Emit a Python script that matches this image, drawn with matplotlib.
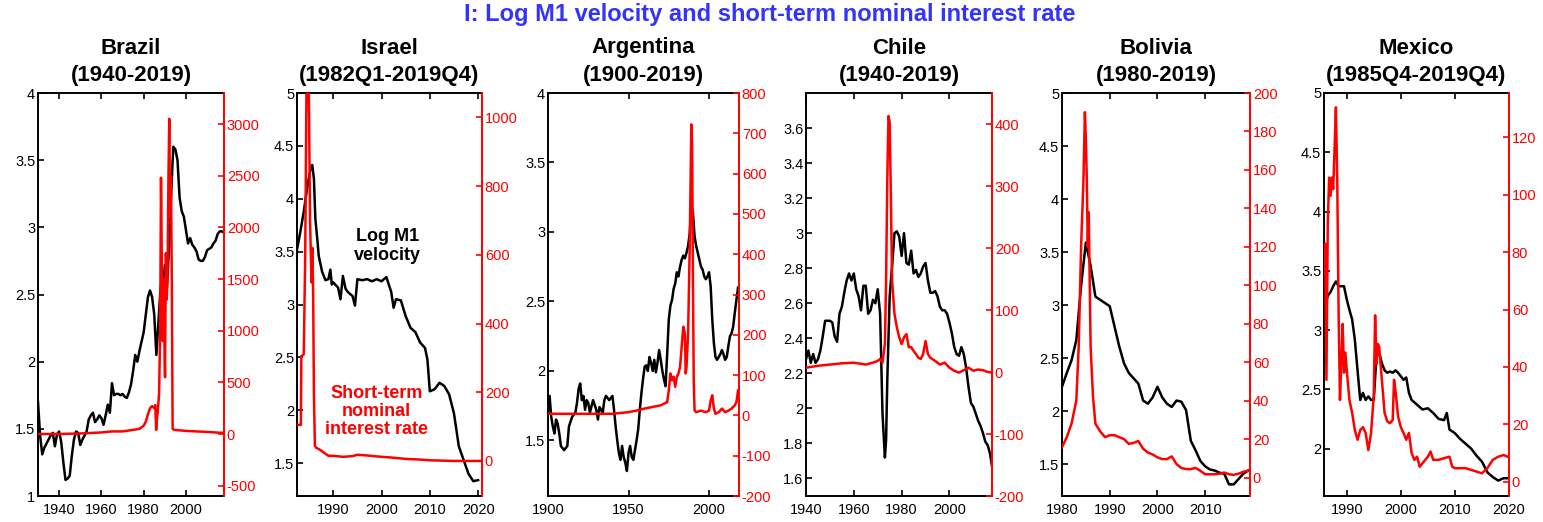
import matplotlib
matplotlib.use('Agg')
import matplotlib.pyplot as plt
from matplotlib.ticker import FuncFormatter, FixedLocator

plt.rcParams['font.family'] = ['Liberation Sans', 'DejaVu Sans']

# ---------------- DATA ----------------
countries = ["Brazil", "Israel", "Argentina", "Chile", "Bolivia", "Mexico"]
periods = ["(1940-2019)", "(1982Q1-2019Q4)", "(1900-2019)", "(1940-2019)", "(1980-2019)", "(1985Q4-2019Q4)"]

# Brazil
bra_years_v = [1930, 1931, 1932, 1933, 1934, 1935, 1936, 1937, 1938, 1939, 1940, 1941, 1942, 1943, 1944, 1945,
               1946, 1947, 1948, 1949, 1950, 1951, 1952, 1953, 1954, 1955, 1956, 1957, 1958, 1959, 1960, 1961,
               1962, 1963, 1964, 1965, 1966, 1967, 1968, 1969, 1970, 1971, 1972, 1973, 1974, 1975, 1976, 1977,
               1978, 1979, 1980, 1981, 1982, 1983, 1984, 1985, 1986, 1987, 1988, 1989, 1990, 1991, 1992, 1993,
               1994, 1995, 1996, 1997, 1998, 1999, 2000, 2001, 2002, 2003, 2004, 2005, 2006, 2007, 2008, 2009,
               2010, 2011, 2012, 2013, 2014, 2015, 2016, 2017, 2018]
bra_velocity = [1.70, 1.45, 1.31, 1.36, 1.39, 1.42, 1.45, 1.47, 1.37, 1.46, 1.48, 1.40, 1.25, 1.12, 1.13, 1.15,
                1.30, 1.42, 1.48, 1.47, 1.38, 1.42, 1.45, 1.48, 1.57, 1.60, 1.62, 1.55, 1.57, 1.60, 1.58, 1.53,
                1.60, 1.68, 1.62, 1.84, 1.75, 1.76, 1.76, 1.75, 1.76, 1.74, 1.73, 1.77, 1.83, 1.93, 2.05, 2.00,
                2.08, 2.15, 2.22, 2.35, 2.48, 2.53, 2.48, 2.35, 2.05, 2.30, 2.55, 2.45, 2.72, 2.55, 2.85, 3.25,
                3.60, 3.58, 3.50, 3.22, 3.12, 3.08, 2.98, 2.88, 2.92, 2.87, 2.85, 2.82, 2.76, 2.75, 2.75, 2.78,
                2.83, 2.84, 2.85, 2.88, 2.90, 2.95, 2.97, 2.97, 2.96]
bra_years_r = [1930, 1940, 1950, 1960, 1965, 1970, 1975, 1978, 1980, 1981, 1982, 1983, 1984, 1985.0, 1985.5,
               1985.9, 1986.3, 1986.8, 1987.3, 1987.8, 1988.2, 1988.6, 1989.0, 1989.4, 1989.8, 1990.1, 1990.5,
               1990.9, 1991.3, 1991.7, 1992.1, 1992.5, 1992.9, 1993.3, 1993.7, 1994.5, 2000, 2005, 2010, 2018]
bra_rate = [0, 0, 5, 15, 25, 25, 40, 50, 80, 120, 190, 250, 270, 250, 280,
            40, 150, 250, 400, 1000, 2480, 1600, 900, 1500, 900, 550, 1750,
            1300, 1550, 2450, 3050, 2100, 2500, 1500, 50, 40, 30, 25, 20, 10]

# Israel
isr_years_v = [1982.55, 1983.2, 1983.9, 1984.6, 1985.3, 1985.65, 1986.0, 1986.3, 1986.7, 1987.0, 1987.7, 1988.4,
               1989.0, 1989.4, 1989.7, 1990.0, 1991.0, 1991.5, 1992.0, 1992.55, 1993.0, 1994.0, 1994.5, 1995.0,
               1996.0, 1997.0, 1998.0, 1999.0, 2000.0, 2001.0, 2002.0, 2002.5, 2003.0, 2004.0, 2005.0, 2006.0,
               2007.0, 2008.0, 2009.0, 2009.5, 2010.0, 2011.0, 2012.0, 2013.0, 2014.0, 2015.0, 2016.0, 2017.0,
               2018.0, 2019.0, 2020.0]
isr_velocity = [3.53, 3.69, 3.88, 4.10, 4.29, 4.32, 4.19, 3.81, 3.62, 3.46, 3.31, 3.23,
                3.24, 3.33, 3.19, 3.21, 3.16, 3.05, 3.27, 3.15, 3.12, 3.08, 2.99, 3.24,
                3.23, 3.24, 3.22, 3.24, 3.22, 3.26, 3.12, 2.97, 3.05, 3.04, 2.89, 2.78,
                2.74, 2.64, 2.59, 2.48, 2.18, 2.20, 2.26, 2.23, 2.15, 1.97, 1.66, 1.53,
                1.40, 1.33, 1.34]
isr_years_r = [1982.55, 1983.3, 1983.4, 1983.9, 1984.2, 1984.5, 1984.9, 1985.2, 1985.5, 1985.7, 1985.85,
               1986.0, 1986.2, 1986.5, 1987, 1988, 1989, 1990, 1992, 1994, 1995, 1997, 2000, 2002, 2005,
               2008, 2010, 2015, 2020.5]
isr_rate = [105, 105, 305, 310, 600, 1150, 1150, 700, 520, 620, 480,
            200, 45, 38, 35, 25, 15, 15, 12, 14, 18, 16, 12, 10, 6,
            4, 2, 0, 0]

# Argentina
arg_years_v = [1900, 1901, 1902, 1903, 1904, 1905, 1906, 1907, 1908, 1910, 1912, 1913, 1915, 1917, 1918, 1919,
               1920, 1921, 1922, 1923, 1924, 1925, 1926, 1928, 1930, 1931, 1932, 1934, 1935, 1936, 1938, 1940,
               1941, 1942, 1943, 1944, 1945, 1946, 1947, 1948, 1949, 1950, 1951, 1952, 1953, 1954, 1955, 1956,
               1957, 1958, 1959, 1960, 1961, 1962, 1963, 1964, 1965, 1966, 1967, 1968, 1969, 1970, 1971, 1972,
               1973, 1974, 1975, 1976, 1977, 1978, 1979, 1980, 1981, 1982, 1983, 1984, 1985, 1986, 1987, 1988,
               1989, 1990, 1991, 1992, 1993, 1994, 1995, 1996, 1997, 1998, 1999, 2000, 2001, 2002, 2003, 2004,
               2005, 2006, 2007, 2008, 2009, 2010, 2011, 2012, 2013, 2014, 2015, 2016, 2017, 2018]
arg_velocity = [1.70, 1.82, 1.67, 1.60, 1.55, 1.65, 1.62, 1.55, 1.46, 1.43, 1.46, 1.60, 1.67, 1.70, 1.77, 1.87,
                1.91, 1.79, 1.82, 1.72, 1.79, 1.77, 1.70, 1.79, 1.72, 1.65, 1.74, 1.70, 1.79, 1.82, 1.79, 1.82,
                1.72, 1.60, 1.50, 1.41, 1.36, 1.46, 1.38, 1.34, 1.28, 1.41, 1.46, 1.38, 1.36, 1.43, 1.50, 1.58,
                1.72, 1.84, 1.94, 2.03, 2.04, 2.00, 2.10, 2.06, 2.00, 2.08, 1.99, 2.06, 2.15, 2.08, 2.00, 1.94,
                1.89, 2.12, 2.37, 2.47, 2.51, 2.59, 2.63, 2.71, 2.68, 2.75, 2.80, 2.83, 2.81, 2.85, 2.90, 2.99,
                3.19, 3.14, 2.97, 2.90, 2.85, 2.80, 2.75, 2.73, 2.68, 2.66, 2.68, 2.71, 2.61, 2.37, 2.20, 2.10,
                2.08, 2.10, 2.12, 2.15, 2.12, 2.08, 2.10, 2.18, 2.25, 2.27, 2.32, 2.42, 2.51, 2.60]
arg_years_r = [1900, 1920, 1940, 1950, 1955, 1960, 1965, 1970, 1974, 1975, 1976, 1977, 1978, 1979, 1980, 1981,
               1982, 1983, 1984, 1985, 1985.5, 1986, 1987, 1988, 1989, 1989.5, 1990, 1990.5, 1991, 1992, 1995,
               1998, 2000, 2001, 2002, 2003, 2004, 2006, 2008, 2010, 2012, 2014, 2016, 2017, 2018]
arg_rate = [4, 4, 4, 8, 12, 17, 21, 25, 33, 62, 104, 87, 96, 71, 96, 104,
            120, 170, 220, 203, 104, 120, 203, 419, 722, 668, 336, 87, 12, 8, 12,
            8, 12, 37, 50, 17, 4, 8, 17, 8, 12, 17, 25, 33, 62]

# Chile
chl_years_v = [1940, 1941, 1942, 1943, 1944, 1945, 1946, 1947, 1948, 1950, 1951, 1952, 1953, 1954, 1955, 1956,
               1957, 1958, 1959, 1960, 1961, 1962, 1963, 1964, 1965, 1966, 1967, 1968, 1969, 1970, 1971, 1972,
               1973, 1973.5, 1974, 1975, 1976, 1977, 1978, 1979, 1980, 1981, 1982, 1983, 1984, 1985, 1986, 1987,
               1988, 1989, 1990, 1991, 1992, 1993, 1994, 1995, 1996, 1997, 1998, 1999, 2000, 2001, 2002, 2003,
               2004, 2005, 2006, 2007, 2008, 2009, 2010, 2011, 2012, 2013, 2014, 2015, 2016, 2017, 2017.8]
chl_velocity = [2.28, 2.33, 2.26, 2.31, 2.26, 2.28, 2.33, 2.41, 2.50, 2.50, 2.49, 2.41, 2.38, 2.54, 2.58, 2.66,
                2.73, 2.77, 2.73, 2.77, 2.68, 2.64, 2.56, 2.70, 2.70, 2.54, 2.56, 2.62, 2.60, 2.68, 2.54, 1.97,
                1.72, 1.82, 2.16, 2.64, 2.81, 3.00, 3.01, 2.98, 2.87, 3.00, 2.83, 2.82, 2.90, 2.77, 2.79, 2.75,
                2.77, 2.81, 2.83, 2.73, 2.66, 2.66, 2.67, 2.64, 2.58, 2.56, 2.56, 2.54, 2.49, 2.43, 2.35, 2.31,
                2.30, 2.35, 2.31, 2.23, 2.12, 2.03, 2.01, 1.97, 1.93, 1.90, 1.86, 1.81, 1.79, 1.74, 1.67]
chl_years_r = [1940, 1945, 1950, 1955, 1960, 1965, 1968, 1970, 1971, 1972, 1973, 1973.5, 1974, 1974.5, 1975,
               1975.5, 1976, 1977, 1978, 1979, 1980, 1981, 1982, 1983, 1984, 1985, 1986, 1987, 1988, 1989,
               1990, 1991, 1992, 1994, 1996, 1998, 2000, 2002, 2004, 2006, 2008, 2010, 2012, 2014, 2016, 2018]
chl_rate = [7, 10, 12, 14, 15, 12, 15, 18, 21, 15, 45, 148, 310, 413, 403,
            283, 148, 94, 72, 56, 45, 56, 61, 40, 40, 34, 29, 23, 21, 29,
            50, 29, 23, 18, 12, 15, 7, 2, -1, 3, 7, 2, 4, 3, 0, -1]

# Bolivia
bol_years_v = [1980, 1981, 1982, 1983, 1984, 1985, 1986, 1987, 1988, 1989, 1990, 1991, 1992, 1993, 1994, 1995,
               1996, 1997, 1998, 1999, 2000, 2001, 2002, 2003, 2004, 2005, 2006, 2007, 2008, 2009, 2010, 2011,
               2012, 2013, 2014, 2015, 2016, 2017, 2018, 2019]
bol_velocity = [2.23, 2.36, 2.48, 2.67, 3.18, 3.59, 3.37, 3.08, 3.05, 3.02, 2.99, 2.80, 2.61, 2.45, 2.36, 2.31,
                2.26, 2.10, 2.07, 2.13, 2.23, 2.13, 2.07, 2.04, 2.10, 2.09, 2.01, 1.72, 1.63, 1.53, 1.48, 1.45,
                1.44, 1.42, 1.41, 1.31, 1.31, 1.36, 1.41, 1.44]
bol_years_r = [1980, 1981, 1982, 1983, 1983.5, 1984, 1984.5, 1984.8, 1985, 1985.2, 1985.4, 1985.6, 1985.8, 1986,
               1986.5, 1987, 1988, 1989, 1990, 1991, 1992, 1993, 1994, 1995, 1996, 1997, 1998, 1999, 2000,
               2001, 2002, 2003, 2004, 2005, 2006, 2007, 2008, 2009, 2010, 2011, 2012, 2013, 2014, 2015, 2016,
               2017, 2018, 2019]
bol_rate = [15.7, 21, 28, 40, 68, 120, 155, 190, 176, 155, 120, 138, 103, 68,
            42, 28, 24, 21, 22, 22, 21, 20, 17.5, 18, 19, 15, 13, 12, 10.5,
            9.6, 9.6, 11, 7, 5, 4.4, 4.4, 5, 3.5, 1.7, 1.7, 1.7, 2, 2.6, 1.7, 1.4,
            2, 3, 3.5]

# Mexico
mex_years_v = [1985.75, 1986, 1986.5, 1987, 1987.5, 1988, 1988.5, 1989, 1989.5, 1990, 1990.5, 1991, 1991.5, 1992,
               1992.5, 1993, 1993.5, 1994, 1994.5, 1995, 1995.5, 1996, 1996.5, 1997, 1997.5, 1998, 1998.5, 1999,
               1999.5, 2000, 2000.5, 2001, 2001.5, 2002, 2003, 2004, 2005, 2006, 2007, 2008, 2008.5, 2009, 2010,
               2011, 2012, 2013, 2014, 2015, 2016, 2017, 2018, 2019, 2019.75]
mex_velocity = [3.43, 3.20, 3.29, 3.32, 3.37, 3.41, 3.37, 3.37, 3.37, 3.26, 3.17, 3.09, 2.92, 2.66,
                2.41, 2.47, 2.41, 2.44, 2.41, 2.41, 2.78, 2.81, 2.72, 2.66, 2.64, 2.65, 2.64, 2.66,
                2.64, 2.61, 2.58, 2.60, 2.47, 2.41, 2.37, 2.33, 2.34, 2.30, 2.25, 2.24, 2.30, 2.16, 2.13,
                2.08, 2.04, 2.00, 1.94, 1.89, 1.80, 1.76, 1.73, 1.75, 1.75]
mex_years_r = [1985.75, 1986, 1986.25, 1986.5, 1986.75, 1987, 1987.25, 1987.5, 1987.75, 1988, 1988.25, 1988.5,
               1988.75, 1989, 1989.25, 1989.5, 1989.75, 1990, 1990.5, 1991, 1991.5, 1992, 1992.5, 1993, 1993.5,
               1994, 1994.5, 1995, 1995.25, 1995.5, 1995.75, 1996, 1996.5, 1997, 1997.5, 1998, 1998.5, 1998.75,
               1999, 1999.5, 2000, 2000.5, 2001, 2001.5, 2002, 2002.5, 2003, 2003.5, 2004, 2005, 2005.5, 2006,
               2007, 2008, 2009, 2009.5, 2010, 2011, 2012, 2013, 2014, 2015, 2016, 2017, 2018, 2019, 2019.75]
mex_rate = [75, 83, 35.5, 90, 106, 99.6, 106, 102, 116, 130.5, 105, 59,
            28.5, 41, 55, 38, 45, 39, 28.5, 24, 18, 14.6, 18, 19, 17,
            11, 17, 30, 58, 41, 48, 47, 35.5, 24, 21, 20.4, 21.5, 35.5,
            32, 22.7, 19, 17, 14.6, 17, 10, 7.6, 8.7, 5.2, 6.4, 8.7, 10.5, 7.6,
            7.6, 8.2, 8.7, 5.2, 4.7, 4.7, 4.7, 4.1, 3.5, 2.9, 4.7, 7.6, 8.7, 9.3, 8.7]

# ---------------- LAYOUT ----------------
W, H = 1543, 522
fig = plt.figure(figsize=(W / 100, H / 100), dpi=100)

panels = [
    dict(xv=bra_years_v, yv=bra_velocity, xr=bra_years_r, yr=bra_rate, l=38, r=224,
         xlim=(1930, 2018), ylim=(1, 4), ylim2=(-600, 3300),
         xt=[1940, 1960, 1980, 2000], yt=[1, 1.5, 2, 2.5, 3, 3.5, 4],
         yt2=[-500, 0, 500, 1000, 1500, 2000, 2500, 3000]),
    dict(xv=isr_years_v, yv=isr_velocity, xr=isr_years_r, yr=isr_rate, l=297, r=482,
         xlim=(1982.5, 2020.8), ylim=(1.19, 5), ylim2=(-102, 1071),
         xt=[1990, 2000, 2010, 2020], yt=[1.5, 2, 2.5, 3, 3.5, 4, 4.5, 5],
         yt2=[0, 200, 400, 600, 800, 1000]),
    dict(xv=arg_years_v, yv=arg_velocity, xr=arg_years_r, yr=arg_rate, l=548, r=739,
         xlim=(1900, 2018.6), ylim=(1.1, 4), ylim2=(-200, 800),
         xt=[1900, 1950, 2000], yt=[1.5, 2, 2.5, 3, 3.5, 4],
         yt2=[-200, -100, 0, 100, 200, 300, 400, 500, 600, 700, 800]),
    dict(xv=chl_years_v, yv=chl_velocity, xr=chl_years_r, yr=chl_rate, l=806, r=992,
         xlim=(1940, 2017.8), ylim=(1.5, 3.8), ylim2=(-200, 450),
         xt=[1940, 1960, 1980, 2000], yt=[1.6, 1.8, 2, 2.2, 2.4, 2.6, 2.8, 3, 3.2, 3.4, 3.6],
         yt2=[-200, -100, 0, 100, 200, 300, 400]),
    dict(xv=bol_years_v, yv=bol_velocity, xr=bol_years_r, yr=bol_rate, l=1062, r=1250,
         xlim=(1980, 2019.4), ylim=(1.2, 5), ylim2=(-9.6, 200),
         xt=[1980, 1990, 2000, 2010], yt=[1.5, 2, 2.5, 3, 3.5, 4, 4.5, 5],
         yt2=[0, 20, 40, 60, 80, 100, 120, 140, 160, 180, 200]),
    dict(xv=mex_years_v, yv=mex_velocity, xr=mex_years_r, yr=mex_rate, l=1324, r=1509,
         xlim=(1985.8, 2020.0), ylim=(1.6, 5), ylim2=(-5, 135.5),
         xt=[1990, 2000, 2010, 2020], yt=[2, 2.5, 3, 3.5, 4, 4.5, 5],
         yt2=[0, 20, 40, 60, 80, 100, 120]),
]

top_px, bot_px = 93, 496
fmt = FuncFormatter(lambda v, p: f'{v:g}')
lab_fs = 10.5
spine_w = 1.4

axes = []
for i, p in enumerate(panels):
    ax = fig.add_axes([p['l'] / W, 1 - bot_px / H, (p['r'] - p['l']) / W, (bot_px - top_px) / H])
    ax.plot(p['xv'], p['yv'], color='black', lw=1.8)
    ax.set_xlim(*p['xlim'])
    ax.set_ylim(*p['ylim'])
    ax.xaxis.set_major_locator(FixedLocator(p['xt']))
    ax.yaxis.set_major_locator(FixedLocator(p['yt']))
    ax.xaxis.set_major_formatter(fmt)
    ax.yaxis.set_major_formatter(fmt)
    ax.tick_params(axis='x', direction='in', length=4, width=1.2, labelsize=lab_fs, top=True, pad=5)
    ax.tick_params(axis='y', direction='in', length=4, width=1.2, labelsize=lab_fs, right=False, pad=2)
    for s in ['left', 'top', 'bottom']:
        ax.spines[s].set_linewidth(spine_w)
        ax.spines[s].set_color('black')
    ax.spines['right'].set_visible(False)

    ax2 = ax.twinx()
    ax2.plot(p['xr'], p['yr'], color='red', lw=1.8)
    ax2.set_ylim(*p['ylim2'])
    ax2.yaxis.set_major_locator(FixedLocator(p['yt2']))
    ax2.yaxis.set_major_formatter(fmt)
    ax2.tick_params(axis='y', direction='in', length=4, width=1.2, labelsize=lab_fs, colors='red', pad=2)
    for s in ['left', 'top', 'bottom']:
        ax2.spines[s].set_visible(False)
    ax2.spines['right'].set_color('red')
    ax2.spines['right'].set_linewidth(spine_w)

    cx = (p['l'] + p['r']) / 2 / W
    fig.text(cx, 1 - 48 / H, countries[i], ha='center', va='center', fontsize=16, fontweight='bold')
    fig.text(cx, 1 - 76 / H, periods[i], ha='center', va='center', fontsize=16, fontweight='bold')
    axes.append((ax, ax2))

# annotations in Israel panel
ax_isr = axes[1][1]
ax_isr.text(0.49, 0.62, "Log M1\nvelocity", transform=ax_isr.transAxes, ha='center', va='center',
            fontsize=13, fontweight='bold', color='black', linespacing=1.1)
ax_isr.text(0.43, 0.21, "Short-term\nnominal\ninterest rate", transform=ax_isr.transAxes, ha='center',
            va='center', fontsize=13, fontweight='bold', color='red', linespacing=1.1)

fig.text(770 / W, 1 - 15 / H, "I: Log M1 velocity and short-term nominal interest rate",
         ha='center', va='center', fontsize=17, fontweight='bold', color='#3333ff')

fig.savefig('out.png', dpi=100)
